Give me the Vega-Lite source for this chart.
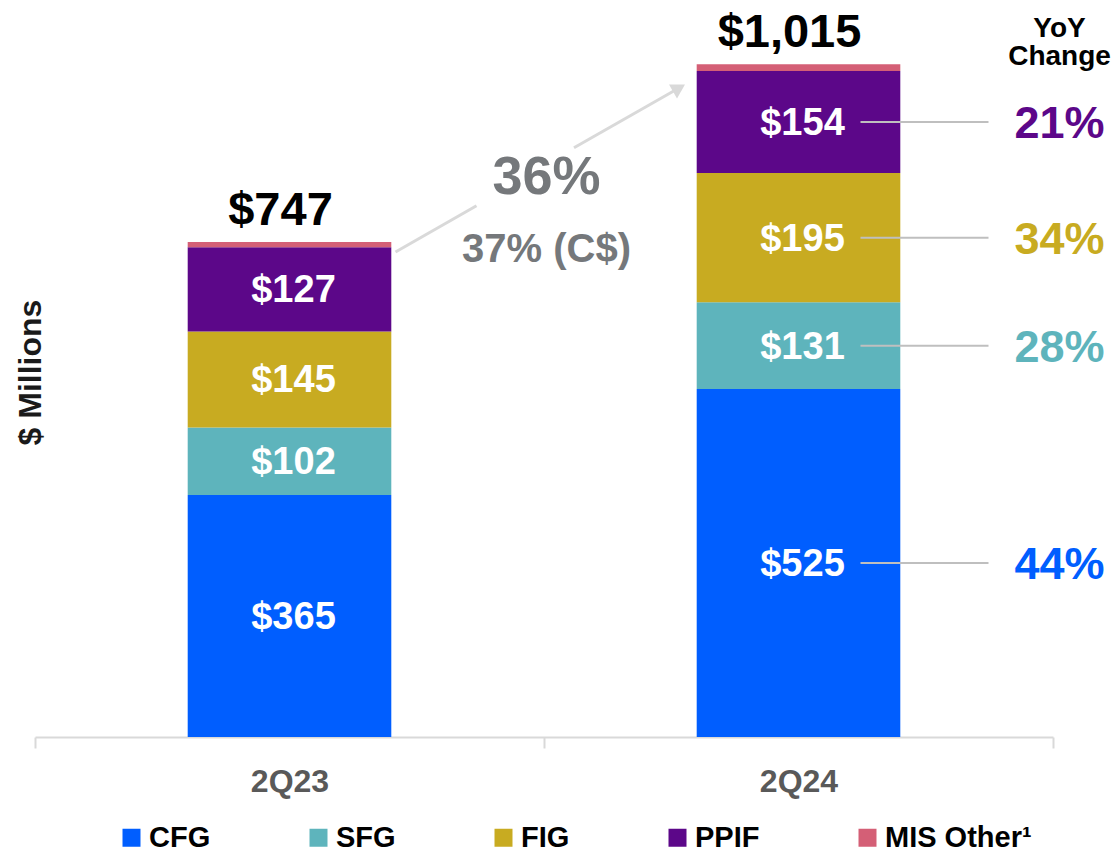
{
  "$schema": "https://vega.github.io/schema/vega-lite/v6.json",
  "width": 1018,
  "height": 729,
  "autosize": {"type": "none"},
  "padding": {"left": 35, "top": 8, "right": 67, "bottom": 115},
  "config": {"view": {"stroke": null}, "font": "Liberation Sans"},
  "data": {
    "values": [
      {"q": "2Q23", "seg": "CFG", "value": 365, "yoy": null},
      {"q": "2Q23", "seg": "SFG", "value": 102, "yoy": null},
      {"q": "2Q23", "seg": "FIG", "value": 145, "yoy": null},
      {"q": "2Q23", "seg": "PPIF", "value": 127, "yoy": null},
      {"q": "2Q23", "seg": "MIS Other¹", "value": 8, "yoy": null},
      {"q": "2Q24", "seg": "CFG", "value": 525, "yoy": "44%"},
      {"q": "2Q24", "seg": "SFG", "value": 131, "yoy": "28%"},
      {"q": "2Q24", "seg": "FIG", "value": 195, "yoy": "34%"},
      {"q": "2Q24", "seg": "PPIF", "value": 154, "yoy": "21%"},
      {"q": "2Q24", "seg": "MIS Other¹", "value": 10, "yoy": null}
    ]
  },
  "transform": [
    {"calculate": "indexof(['CFG','SFG','FIG','PPIF','MIS Other¹'], datum.seg)", "as": "ord"},
    {"stack": "value", "groupby": ["q"], "sort": [{"field": "ord", "order": "ascending"}], "as": ["v0", "v1"]},
    {"calculate": "(datum.v0 + datum.v1) / 2", "as": "mid"}
  ],
  "layer": [
    {
      "mark": {"type": "bar", "width": {"band": 0.4}},
      "encoding": {
        "x": {
          "field": "q", "type": "nominal",
          "scale": {"domain": ["2Q23", "2Q24"], "paddingInner": 0, "paddingOuter": 0},
          "axis": {
            "title": null, "tickBand": "extent", "labelAngle": 0,
            "domainColor": "#D9D9D9", "domainWidth": 2,
            "tickColor": "#D9D9D9", "tickWidth": 2, "tickSize": 11,
            "labelFont": "Liberation Sans", "labelFontSize": 32, "labelFontWeight": "bold",
            "labelColor": "#595959", "labelPadding": 18
          }
        },
        "y": {
          "field": "v0", "type": "quantitative",
          "scale": {"domain": [0, 1100], "nice": false, "zero": true},
          "axis": {
            "title": "$ Millions", "labels": false, "ticks": false, "domain": false, "grid": false,
            "titleFont": "Liberation Sans", "titleFontSize": 32, "titleFontWeight": "bold",
            "titleColor": "#1a1a1a", "titleAngle": 270, "titleX": -5, "titleY": 364,
            "titleAlign": "center", "titleBaseline": "middle"
          }
        },
        "y2": {"field": "v1"},
        "color": {
          "field": "seg", "type": "nominal",
          "scale": {
            "domain": ["CFG", "SFG", "FIG", "PPIF", "MIS Other¹"],
            "range": ["#005EFF", "#5EB4BC", "#C8AB21", "#5C0789", "#D45F76"]
          },
          "legend": {
            "orient": "none", "legendX": 82, "legendY": 815, "direction": "horizontal",
            "title": null, "symbolType": "square", "symbolSize": 324, "symbolStrokeWidth": 0,
            "labelFont": "Liberation Sans", "labelFontSize": 29, "labelFontWeight": "bold",
            "labelColor": "#000000", "labelOffset": 3, "columnPadding": 93, "padding": 0
          }
        }
      }
    },
    {
      "transform": [{"filter": "datum.seg != 'MIS Other¹'"}],
      "mark": {"type": "text", "color": "#FFFFFF", "font": "Liberation Sans", "fontSize": 38, "fontWeight": "bold", "baseline": "middle", "dx": 4, "dy": 2},
      "encoding": {
        "x": {"field": "q", "type": "nominal"},
        "y": {"field": "mid", "type": "quantitative"},
        "text": {"field": "value", "type": "quantitative", "format": "$,.0f"}
      }
    },
    {
      "transform": [{"filter": "datum.q == '2Q24' && datum.seg != 'MIS Other¹'"}],
      "mark": {"type": "rule", "color": "#BFBFBF", "strokeWidth": 2, "xOffset": 62, "x2Offset": 190},
      "encoding": {
        "x": {"field": "q", "type": "nominal"},
        "x2": {"field": "q"},
        "y": {"field": "mid", "type": "quantitative"}
      }
    },
    {
      "transform": [{"filter": "datum.q == '2Q24' && datum.seg != 'MIS Other¹'"}],
      "mark": {"type": "text", "font": "Liberation Sans", "fontSize": 45, "fontWeight": "bold", "baseline": "middle", "xOffset": 261, "dy": 2},
      "encoding": {
        "x": {"field": "q", "type": "nominal"},
        "y": {"field": "mid", "type": "quantitative"},
        "text": {"field": "yoy"},
        "color": {"field": "seg", "type": "nominal", "legend": null}
      }
    },
    {
      "transform": [{"aggregate": [{"op": "sum", "field": "value", "as": "total"}], "groupby": ["q"]}],
      "mark": {"type": "text", "color": "#000000", "font": "Liberation Sans", "fontSize": 47, "fontWeight": "bold", "baseline": "alphabetic", "dy": -17, "dx": -9},
      "encoding": {
        "x": {"field": "q", "type": "nominal"},
        "y": {"field": "total", "type": "quantitative"},
        "text": {"field": "total", "type": "quantitative", "format": "$,.0f"}
      }
    },
    {
      "data": {"values": [{"label": "YoY Change"}]},
      "mark": {"type": "text", "text": ["YoY", "Change"], "color": "#000000", "font": "Liberation Sans", "fontSize": 28, "fontWeight": "bold", "baseline": "alphabetic", "lineHeight": 28, "xOffset": 261},
      "encoding": {
        "x": {"datum": "2Q24", "type": "nominal"},
        "y": {"datum": 1056, "type": "quantitative"}
      }
    },
    {
      "data": {"values": [{"label": "36%", "v": 843.5, "size": "big"}, {"label": "37% (C$)", "v": 734.8, "size": "small"}]},
      "mark": {"type": "text", "color": "#75787B", "font": "Liberation Sans", "fontWeight": "bold", "baseline": "middle", "xOffset": 257},
      "encoding": {
        "x": {"datum": "2Q23", "type": "nominal"},
        "y": {"field": "v", "type": "quantitative"},
        "text": {"field": "label"},
        "size": {"field": "size", "type": "nominal", "scale": {"domain": ["big", "small"], "range": [54, 40]}, "legend": null}
      }
    },
    {
      "data": {"values": [{"a": 1}]},
      "mark": {"type": "rule", "color": "#D9D9D9", "strokeWidth": 3, "xOffset": 106, "x2Offset": 187},
      "encoding": {
        "x": {"datum": "2Q23", "type": "nominal"},
        "x2": {"datum": "2Q23"},
        "y": {"datum": 731.8, "type": "quantitative"},
        "y2": {"datum": 801.7}
      }
    },
    {
      "data": {"values": [{"a": 1}]},
      "mark": {"type": "rule", "color": "#D9D9D9", "strokeWidth": 3, "xOffset": -224.5, "x2Offset": -119.5},
      "encoding": {
        "x": {"datum": "2Q24", "type": "nominal"},
        "x2": {"datum": "2Q24"},
        "y": {"datum": 889.2, "type": "quantitative"},
        "y2": {"datum": 979.3}
      }
    },
    {
      "data": {"values": [{"a": 1}]},
      "mark": {"type": "point", "shape": "triangle-right", "filled": true, "color": "#D9D9D9", "opacity": 1, "size": 256, "angle": -30, "xOffset": -119.5},
      "encoding": {
        "x": {"datum": "2Q24", "type": "nominal"},
        "y": {"datum": 979.3, "type": "quantitative"}
      }
    }
  ]
}
